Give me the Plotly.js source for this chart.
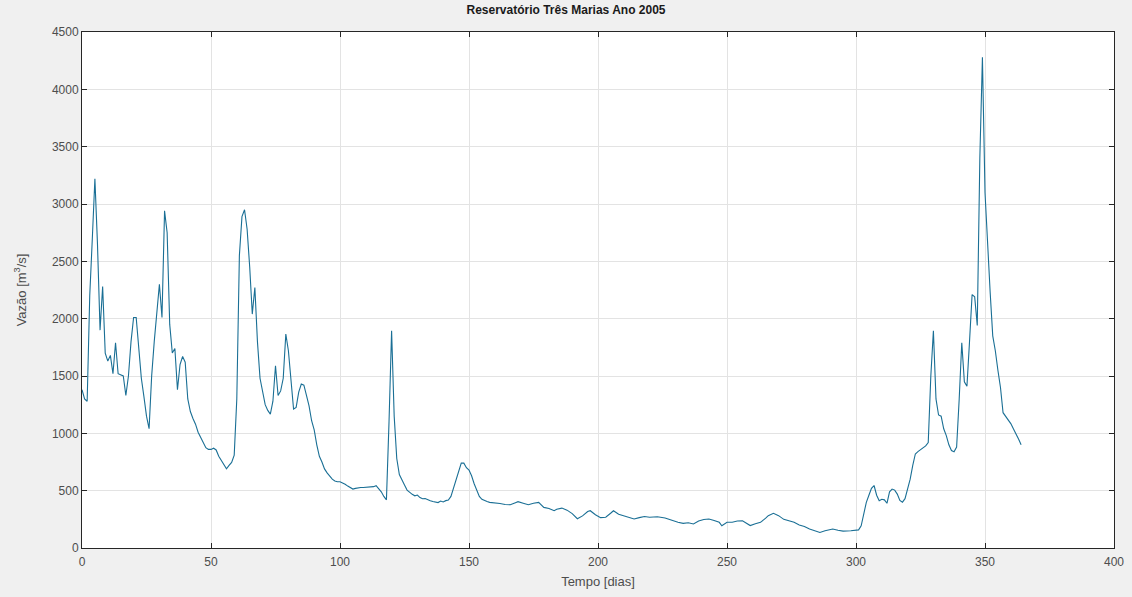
<!DOCTYPE html>
<html>
<head>
<meta charset="utf-8">
<script src="https://cdn.plot.ly/plotly-3.0.1.min.js"></script>
<style>
  html, body { margin: 0; padding: 0; background: #f0f0f0; }
  #chart { width: 1132px; height: 597px; }
</style>
</head>
<body>
<div id="chart"></div>
<script>
// Daily inflow to the Três Marias reservoir, 2005 (m³/s)
const dias = [
  0,1,2,3,4,5,6,7,8,9,10,11,12,13,14,15,16,17,18,19,
  20,21,22,23,24,25,26,27,28,29,30,31,32,33,34,35,36,37,38,39,
  40,41,42,43,44,45,46,47,48,49,50,51,52,53,54,55,56,57,58,59,
  60,61,62,63,64,65,66,67,68,69,70,71,72,73,74,75,76,77,78,79,
  80,81,82,83,84,85,86,87,88,89,90,91,92,93,94,95,96,97,98,99,
  100,101,102,103,104,105,106,107,108,109,110,111,112,113,114,115,116,117,118,119,
  120,121,122,123,124,125,126,127,128,129,130,131,132,133,134,135,136,137,138,139,
  140,141,142,143,144,145,146,147,148,149,150,151,152,153,154,155,156,157,158,160,
  162,164,166,168,169,171,173,175,177,179,181,183,184,186,188,190,192,194,196,197,
  199,201,203,205,206,208,211,214,216,218,220,223,226,229,231,233,235,237,239,241,
  243,245,247,248,250,252,254,256,258,259,261,263,265,266,268,270,272,274,276,278,
  280,282,284,286,288,291,293,295,298,300,301,302,303,304,305,306,307,308,309,310,
  311,312,313,314,315,316,317,318,319,320,321,322,323,324,325,326,327,328,329,330,
  331,332,333,334,335,336,337,338,339,340,341,342,343,344,345,346,347,348,349,350,
  351,352,353,354,355,356,357,358,359,360,361,362,363,364
];
const vazao = [
  1380,1300,1280,2200,2700,3220,2650,1900,2280,1700,1630,1680,1520,1790,1520,1510,1500,1330,1500,1800,
  2010,2010,1700,1480,1320,1150,1040,1500,1800,2050,2300,2010,2940,2750,1950,1700,1740,1380,1600,1670,
  1620,1300,1190,1130,1080,1010,960,910,875,860,860,870,855,800,760,720,690,720,746,810,
  1300,2550,2890,2950,2780,2450,2040,2272,1800,1480,1350,1250,1200,1168,1280,1590,1330,1370,1480,1866,
  1720,1459,1212,1226,1360,1430,1420,1330,1240,1110,1030,900,800,750,690,655,630,600,585,578,
  578,570,556,540,525,514,520,525,528,528,530,528,530,535,543,520,490,450,420,1100,
  1895,1150,780,640,587,550,505,485,468,455,462,440,430,432,420,412,405,400,396,410,
  402,413,418,450,520,580,660,740,740,700,680,630,560,500,450,425,412,405,398,395,
  388,380,377,395,404,390,377,390,398,354,345,325,338,348,330,300,255,280,318,325,
  290,265,268,305,325,295,275,253,265,275,268,272,262,238,225,215,220,209,235,248,
  253,240,224,194,225,224,235,238,210,196,212,224,260,282,302,282,250,238,225,200,
  188,165,148,135,150,165,155,147,150,155,158,194,300,398,460,520,545,460,412,425,
  420,390,490,514,505,470,415,400,430,520,600,720,820,840,855,870,890,920,1500,1895,
  1300,1160,1150,1040,980,900,850,840,880,1300,1790,1450,1410,1800,2210,2190,1940,3400,4280,3100,
  2600,2230,1850,1720,1550,1400,1180,1150,1110,1085,1040,1000,950,900
];
const xTicks = [0, 50, 100, 150, 200, 250, 300, 350, 400];
const yTicks = [0, 500, 1000, 1500, 2000, 2500, 3000, 3500, 4000, 4500];

const fontFamily = 'Liberation Sans, Arial, sans-serif';

const axisCommon = {
  showline: true,
  linecolor: '#262626',
  linewidth: 1,
  mirror: 'ticks',
  ticks: 'inside',
  ticklen: 5,
  tickcolor: '#262626',
  showgrid: true,
  gridcolor: '#e3e3e3',
  gridwidth: 1,
  zeroline: false,
  tickfont: { family: fontFamily, size: 12, color: '#4d4d4d' }
};

const trace = {
  x: dias,
  y: vazao,
  type: 'scatter',
  mode: 'lines',
  line: { color: '#1a6f95', width: 1.1 },
  hoverinfo: 'x+y'
};

const layout = {
  width: 1132,
  height: 597,
  paper_bgcolor: '#f0f0f0',
  plot_bgcolor: '#ffffff',
  margin: { l: 82, r: 18, t: 32, b: 49 },
  showlegend: false,
  title: {
    text: '<b>Reservatório Três Marias Ano 2005</b>',
    font: { family: fontFamily, size: 12, color: '#1a1a1a' },
    x: 0.5, xanchor: 'center',
    y: 0.983, yanchor: 'middle'
  },
  xaxis: Object.assign({}, axisCommon, {
    range: [0, 400],
    tickvals: xTicks,
    ticklabelstandoff: 3,
    title: { text: 'Tempo [dias]', font: { family: fontFamily, size: 13, color: '#4d4d4d' }, standoff: 8 }
  }),
  yaxis: Object.assign({}, axisCommon, {
    range: [0, 4500],
    tickvals: yTicks,
    title: { text: 'Vazão [m<sup>3</sup>/s]', font: { family: fontFamily, size: 13, color: '#4d4d4d' }, standoff: 22 }
  })
};

Plotly.newPlot('chart', [trace], layout, { displayModeBar: false, staticPlot: true });
</script>
</body>
</html>
